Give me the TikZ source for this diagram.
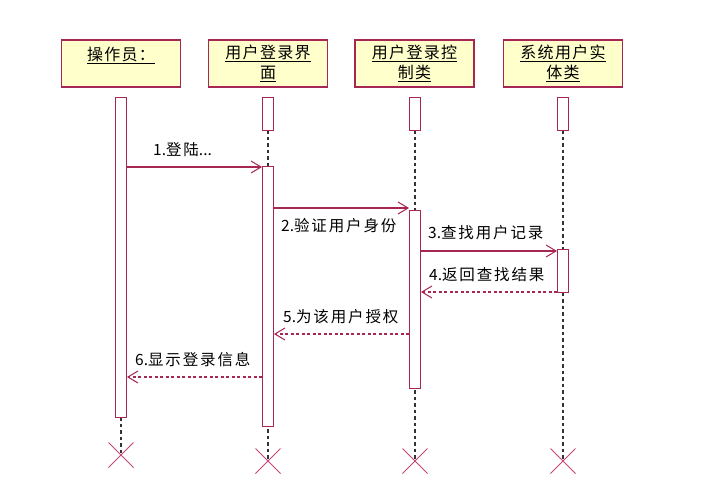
\documentclass[tikz,border=0pt]{standalone}
\usepackage{fontspec}
\setmainfont{Noto Sans CJK SC}
\newfontfamily\hdrfont[LetterSpace=8]{Noto Sans CJK SC}
\newfontfamily\cj[LetterSpace=12]{Noto Sans CJK SC}
\usetikzlibrary{arrows.meta,shapes.misc}
\definecolor{umlred}{RGB}{166,38,84}
\definecolor{umlpink}{RGB}{196,70,120}
\definecolor{umlfill}{RGB}{255,255,204}
\tikzset{
  hdr/.style={draw=umlred,fill=umlfill,line width=1.2pt,minimum width=119pt,minimum height=47pt,
    align=center,inner sep=0pt,font=\hdrfont\fontsize{16}{20}\selectfont},
  bar/.style={draw=umlred,fill=white,line width=1pt,minimum width=11pt,inner sep=0pt},
  life/.style={draw=black!80,line width=1.2pt,dash pattern=on 3.5pt off 3pt},
  msg/.style={draw=umlred,line width=1.1pt,-{Straight Barb[length=10pt,width=12pt,line width=1pt]}},
  ret/.style={msg,dash pattern=on 3pt off 2.5pt},
  lbl/.style={anchor=west,inner sep=0pt,font=\fontsize{15.5}{17}\selectfont},
  kill/.style={cross out,draw=umlpink,line width=1pt,minimum width=24pt,minimum height=24pt,inner sep=0pt}
}
\begin{document}
\begin{tikzpicture}[x=1pt,y=-1pt]
\useasboundingbox (0,0) rectangle (725,499);
% headers
\node[hdr] (p1) at (121,63.5) {\underline{操作员：}\\\mbox{}};
\node[hdr] (p2) at (268,63.5) {\underline{用户登录界}\\\underline{面}};
\node[hdr] (p3) at (414.5,63.5) {\underline{用户登录控}\\\underline{制类}};
\node[hdr] (p4) at (563,63.5) {\underline{系统用户实}\\\underline{体类}};
% destruction marks
\node[kill] (x1) at (121,455) {};
\node[kill] (x2) at (268,461) {};
\node[kill] (x3) at (415,461) {};
\node[kill] (x4) at (563,461) {};
% header bar ends
\coordinate (t2) at (268,130);
\coordinate (t3) at (415,130);
\coordinate (t4) at (563,130);
% lifelines
\coordinate (e1) at (121,417);
\draw[life] (e1) -- (x1.center);
\draw[life] (t2) -- (x2.center);
\draw[life] (t3) -- (x3.center);
\draw[life] (t4) -- (x4.center);
% activation bars
\node[bar,minimum height=320pt] (b1) at (121,257) {};
\node[bar,minimum height=33pt] (s2) at (268,113.5) {};
\node[bar,minimum height=33pt] (s3) at (415,113.5) {};
\node[bar,minimum height=33pt] (s4) at (563,113.5) {};
\node[bar,minimum height=260pt] (b2) at (268,296) {};
\node[bar,minimum height=178pt] (b3) at (415,299) {};
\node[bar,minimum height=43pt] (b4) at (563,270.5) {};
% messages
\draw[msg] (b1.east |- 0,167) -- (b2.west |- 0,167);
\draw[msg] (b2.east |- 0,208) -- (b3.west |- 0,208);
\draw[msg] (b3.east |- 0,251) -- (b4.west |- 0,251);
\draw[ret] (b4.west |- 0,292) -- (b3.east |- 0,292);
\draw[ret] (b3.west |- 0,334) -- (b2.east |- 0,334);
\draw[ret] (b2.west |- 0,377) -- (b1.east |- 0,377);
% labels
\node[lbl] (l1) at (153,150) {1.{\cj 登陆}...};
\node[lbl] (l2) at (281,226) {2.{\cj 验证用户身份}};
\node[lbl] (l3) at (428,233) {3.{\cj 查找用户记录}};
\node[lbl] (l4) at (429,275) {4.{\cj 返回查找结果}};
\node[lbl] (l5) at (283,317) {5.{\cj 为该用户授权}};
\node[lbl] (l6) at (135,360) {6.{\cj 显示登录信息}};
\end{tikzpicture}
\end{document}
